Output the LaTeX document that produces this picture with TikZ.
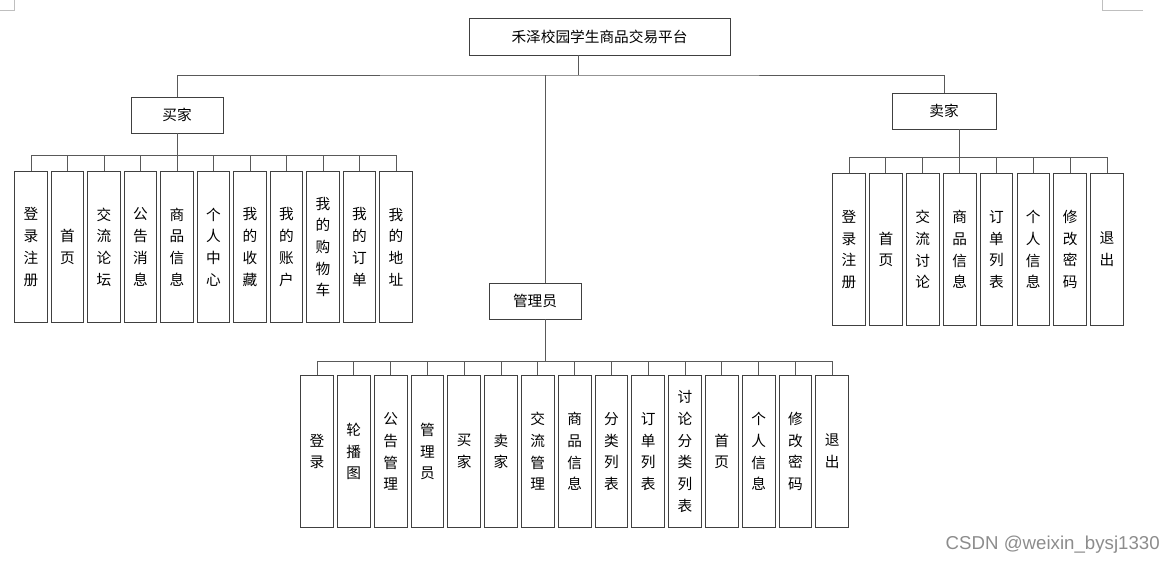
\documentclass[tikz,border=0pt]{standalone}
\usepackage{fontspec}
\newfontfamily\cjk{Noto Sans CJK SC}
\newfontfamily\wmfont{Liberation Sans}
\usetikzlibrary{positioning,calc}

\begin{document}
\begin{tikzpicture}[x=0.75pt, y=-0.75pt,
  box/.style={draw=black!75, line width=0.6pt, fill=white, inner sep=0pt,
    font=\cjk\fontsize{11}{14}\selectfont},
  leaf/.style={box, minimum width=24.5pt, minimum height=113.5pt, align=center,
    font=\cjk\fontsize{11}{16.3}\selectfont},
  link/.style={draw=black!65, line width=0.6pt}]
  \useasboundingbox (0,0) rectangle (1174,565);
  % page corner marks
  \draw[black!25, line width=0.5pt] (14,0) -- (14,10) -- (0,10);
  \draw[black!25, line width=0.5pt] (1102,0) -- (1102,10) -- (1143,10);

  % top levels
  \node[box, minimum width=195.75pt, minimum height=27.75pt] (root) at (599.5,36.5) {禾泽校园学生商品交易平台};
  \node[box, minimum width=69pt, minimum height=27pt] (buyer) at (177,115) {买家};
  \node[box, minimum width=78pt, minimum height=27pt] (seller) at (944,111) {卖家};
  \node[box, minimum width=69pt, minimum height=27pt] (admin) at (535,301) {管理员};

  \coordinate (topj) at (578,75);
  \coordinate (adminj) at (545,75);
  \draw[link] (topj |- root.south) -- (topj);
  \draw[link] (buyer.north) |- (topj) -| (seller.north);
  \draw[link] (adminj) -- (adminj |- admin.north);

  % buyer leaves
  \foreach \i/\txt in {1/登\\录\\注\\册, 2/首\\页, 3/交\\流\\论\\坛, 4/公\\告\\消\\息,
      5/商\\品\\信\\息, 6/个\\人\\中\\心, 7/我\\的\\收\\藏, 8/我\\的\\账\\户,
      9/我\\的\\购\\物\\车, 10/我\\的\\订\\单, 11/我\\的\\地\\址}
    \node[leaf] (b\i) at ({31+(\i-1)*36.5},247) {\txt};
  \coordinate (bbar) at (177,155);
  \draw[link] (buyer.south) -- (bbar);
  \draw[link] (b1.north |- bbar) -- (b11.north |- bbar);
  \foreach \i in {1,...,11}
    \draw[link] (b\i.north) -- (b\i.north |- bbar);

  % seller leaves
  \foreach \i/\txt in {1/登\\录\\注\\册, 2/首\\页, 3/交\\流\\讨\\论, 4/商\\品\\信\\息,
      5/订\\单\\列\\表, 6/个\\人\\信\\息, 7/修\\改\\密\\码, 8/退\\出}
    \node[leaf] (s\i) at ({849+(\i-1)*36.86},249.5) {\txt};
  \coordinate (sbar) at (959,157);
  \draw[link] (sbar |- seller.south) -- (sbar);
  \draw[link] (s1.north |- sbar) -- (s8.north |- sbar);
  \foreach \i in {1,...,8}
    \draw[link] (s\i.north) -- (s\i.north |- sbar);

  % admin leaves
  \foreach \i/\txt in {1/登\\录, 2/轮\\播\\图, 3/公\\告\\管\\理, 4/管\\理\\员, 5/买\\家,
      6/卖\\家, 7/交\\流\\管\\理, 8/商\\品\\信\\息, 9/分\\类\\列\\表, 10/订\\单\\列\\表,
      11/讨\\论\\分\\类\\列\\表, 12/首\\页, 13/个\\人\\信\\息, 14/修\\改\\密\\码, 15/退\\出}
    \node[leaf] (a\i) at ({317+(\i-1)*36.8},451.5) {\txt};
  \coordinate (abar) at (545,361);
  \draw[link] (abar |- admin.south) -- (abar);
  \draw[link] (a1.north |- abar) -- (a15.north |- abar);
  \foreach \i in {1,...,15}
    \draw[link] (a\i.north) -- (a\i.north |- abar);

  \node[font=\wmfont\fontsize{14}{14}\selectfont, text=black!45, anchor=east, inner sep=0pt] (mark) at (1160,545) {CSDN @weixin\_bysj1330};
\end{tikzpicture}
\end{document}
